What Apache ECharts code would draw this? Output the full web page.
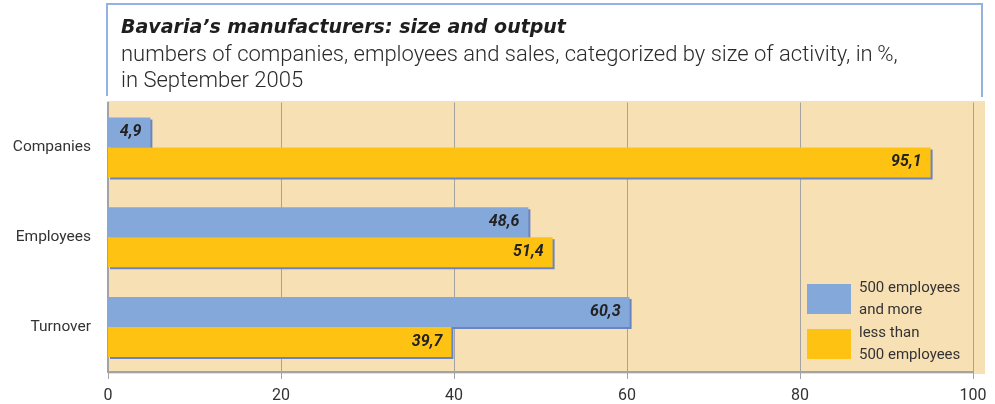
<!DOCTYPE html>
<html>
<head>
<meta charset="utf-8">
<script src="https://cdn.jsdelivr.net/npm/echarts@6/dist/echarts.min.js"></script>
<style>
  html, body { margin: 0; padding: 0; background: #ffffff; }
  #chart { width: 995px; height: 404px; }
</style>
</head>
<body>
<div id="chart"></div>
<script>
// Share of Bavarian manufacturers by size class, September 2005 (in %)
const categories = ['Companies', 'Employees', 'Turnover'];
const largeFirms = [4.9, 48.6, 60.3];   // 500 employees and more
const smallFirms = [95.1, 51.4, 39.7];  // less than 500 employees
const seriesNames = ['500 employees\nand more', 'less than\n500 employees'];
const xTicks = [0, 20, 40, 60, 80, 100];

const FONT = 'Roboto, "Liberation Sans Narrow", sans-serif';
const TITLE_FONT = '"DejaVu Sans", Roboto, sans-serif';
const BLUE = '#84a8d9';
const YELLOW = '#fec312';
const SHADOW = '#6a84c2';
const BEIGE = '#f8e0b5';
const GRID_GRAY = '#a3a3a3';

const chart = echarts.init(document.getElementById('chart'));

function pct(v) { return String(v).replace('.', ','); }

function barSeries(name, data, color) {
  return {
    name: name,
    type: 'bar',
    xAxisIndex: 1,
    yAxisIndex: 1,
    data: data,
    barWidth: 30,
    barGap: '0%',
    itemStyle: {
      color: color,
      shadowColor: SHADOW,
      shadowOffsetX: 2,
      shadowOffsetY: 2,
      shadowBlur: 0
    },
    label: {
      show: true,
      position: 'insideRight',
      distance: 9,
      formatter: p => pct(p.value),
      fontFamily: FONT,
      fontSize: 16,
      fontWeight: 'bold',
      fontStyle: 'italic',
      color: '#222222'
    },
    emphasis: { disabled: true }
  };
}

chart.setOption({
  animation: false,
  title: {
    left: 116,
    top: 14,
    text: 'Bavaria\u2019s manufacturers: size and output',
    textStyle: {
      fontFamily: TITLE_FONT,
      fontSize: 19,
      fontWeight: 'bold',
      fontStyle: 'italic',
      color: '#1e1e1e'
    },
    subtext: 'numbers of companies, employees and sales, categorized by size of activity, in\u2009%,\nin September 2005',
    itemGap: 4,
    subtextStyle: {
      fontFamily: FONT,
      fontSize: 22,
      fontWeight: 300,
      lineHeight: 26,
      color: '#2a2a2a'
    }
  },
  graphic: [
    {
      type: 'polyline',
      shape: { points: [[107, 96], [107, 4], [982, 4], [982, 97]] },
      style: { stroke: '#93b2e0', lineWidth: 2, fill: null },
      z: 10
    }
  ],
  legend: {
    orient: 'vertical',
    left: 807,
    top: 277,
    padding: 0,
    itemWidth: 44,
    itemHeight: 30,
    itemGap: 1,
    icon: 'rect',
    selectedMode: false,
    data: seriesNames,
    textStyle: {
      fontFamily: FONT,
      fontSize: 15,
      lineHeight: 22,
      color: '#333333',
      padding: [0, 0, 0, 3]
    }
  },
  grid: [
    // beige panel
    { show: true, left: 108, right: 10, top: 101, bottom: 30, backgroundColor: BEIGE, borderWidth: 0 },
    // bars, value scale and gridlines
    { left: 108, right: 22, top: 102.5, bottom: 30 }
  ],
  xAxis: [
    { gridIndex: 0, type: 'value', show: false, min: 0, max: 100 },
    {
      gridIndex: 1, type: 'value', min: 0, max: 100, interval: 20,
      axisLine: { show: true, lineStyle: { color: GRID_GRAY, width: 2 } },
      axisTick: { show: true, length: 7, lineStyle: { color: GRID_GRAY, width: 1 } },
      splitLine: { show: true, lineStyle: { color: GRID_GRAY, width: 1 } },
      axisLabel: {
        margin: 16,
        fontFamily: FONT, fontSize: 16, color: '#333333',
        formatter: v => xTicks.indexOf(v) >= 0 ? String(v) : ''
      }
    }
  ],
  yAxis: [
    { gridIndex: 0, type: 'value', show: false },
    {
      gridIndex: 1, type: 'category', inverse: true, data: categories,
      axisLine: { show: true, lineStyle: { color: GRID_GRAY, width: 2 } },
      axisTick: { show: false },
      axisLabel: {
        margin: 17, padding: [4, 0, 0, 0],
        fontFamily: FONT, fontSize: 15.5, color: '#333333'
      }
    }
  ],
  series: [
    barSeries(seriesNames[0], largeFirms, BLUE),
    barSeries(seriesNames[1], smallFirms, YELLOW)
  ]
});
</script>
</body>
</html>
